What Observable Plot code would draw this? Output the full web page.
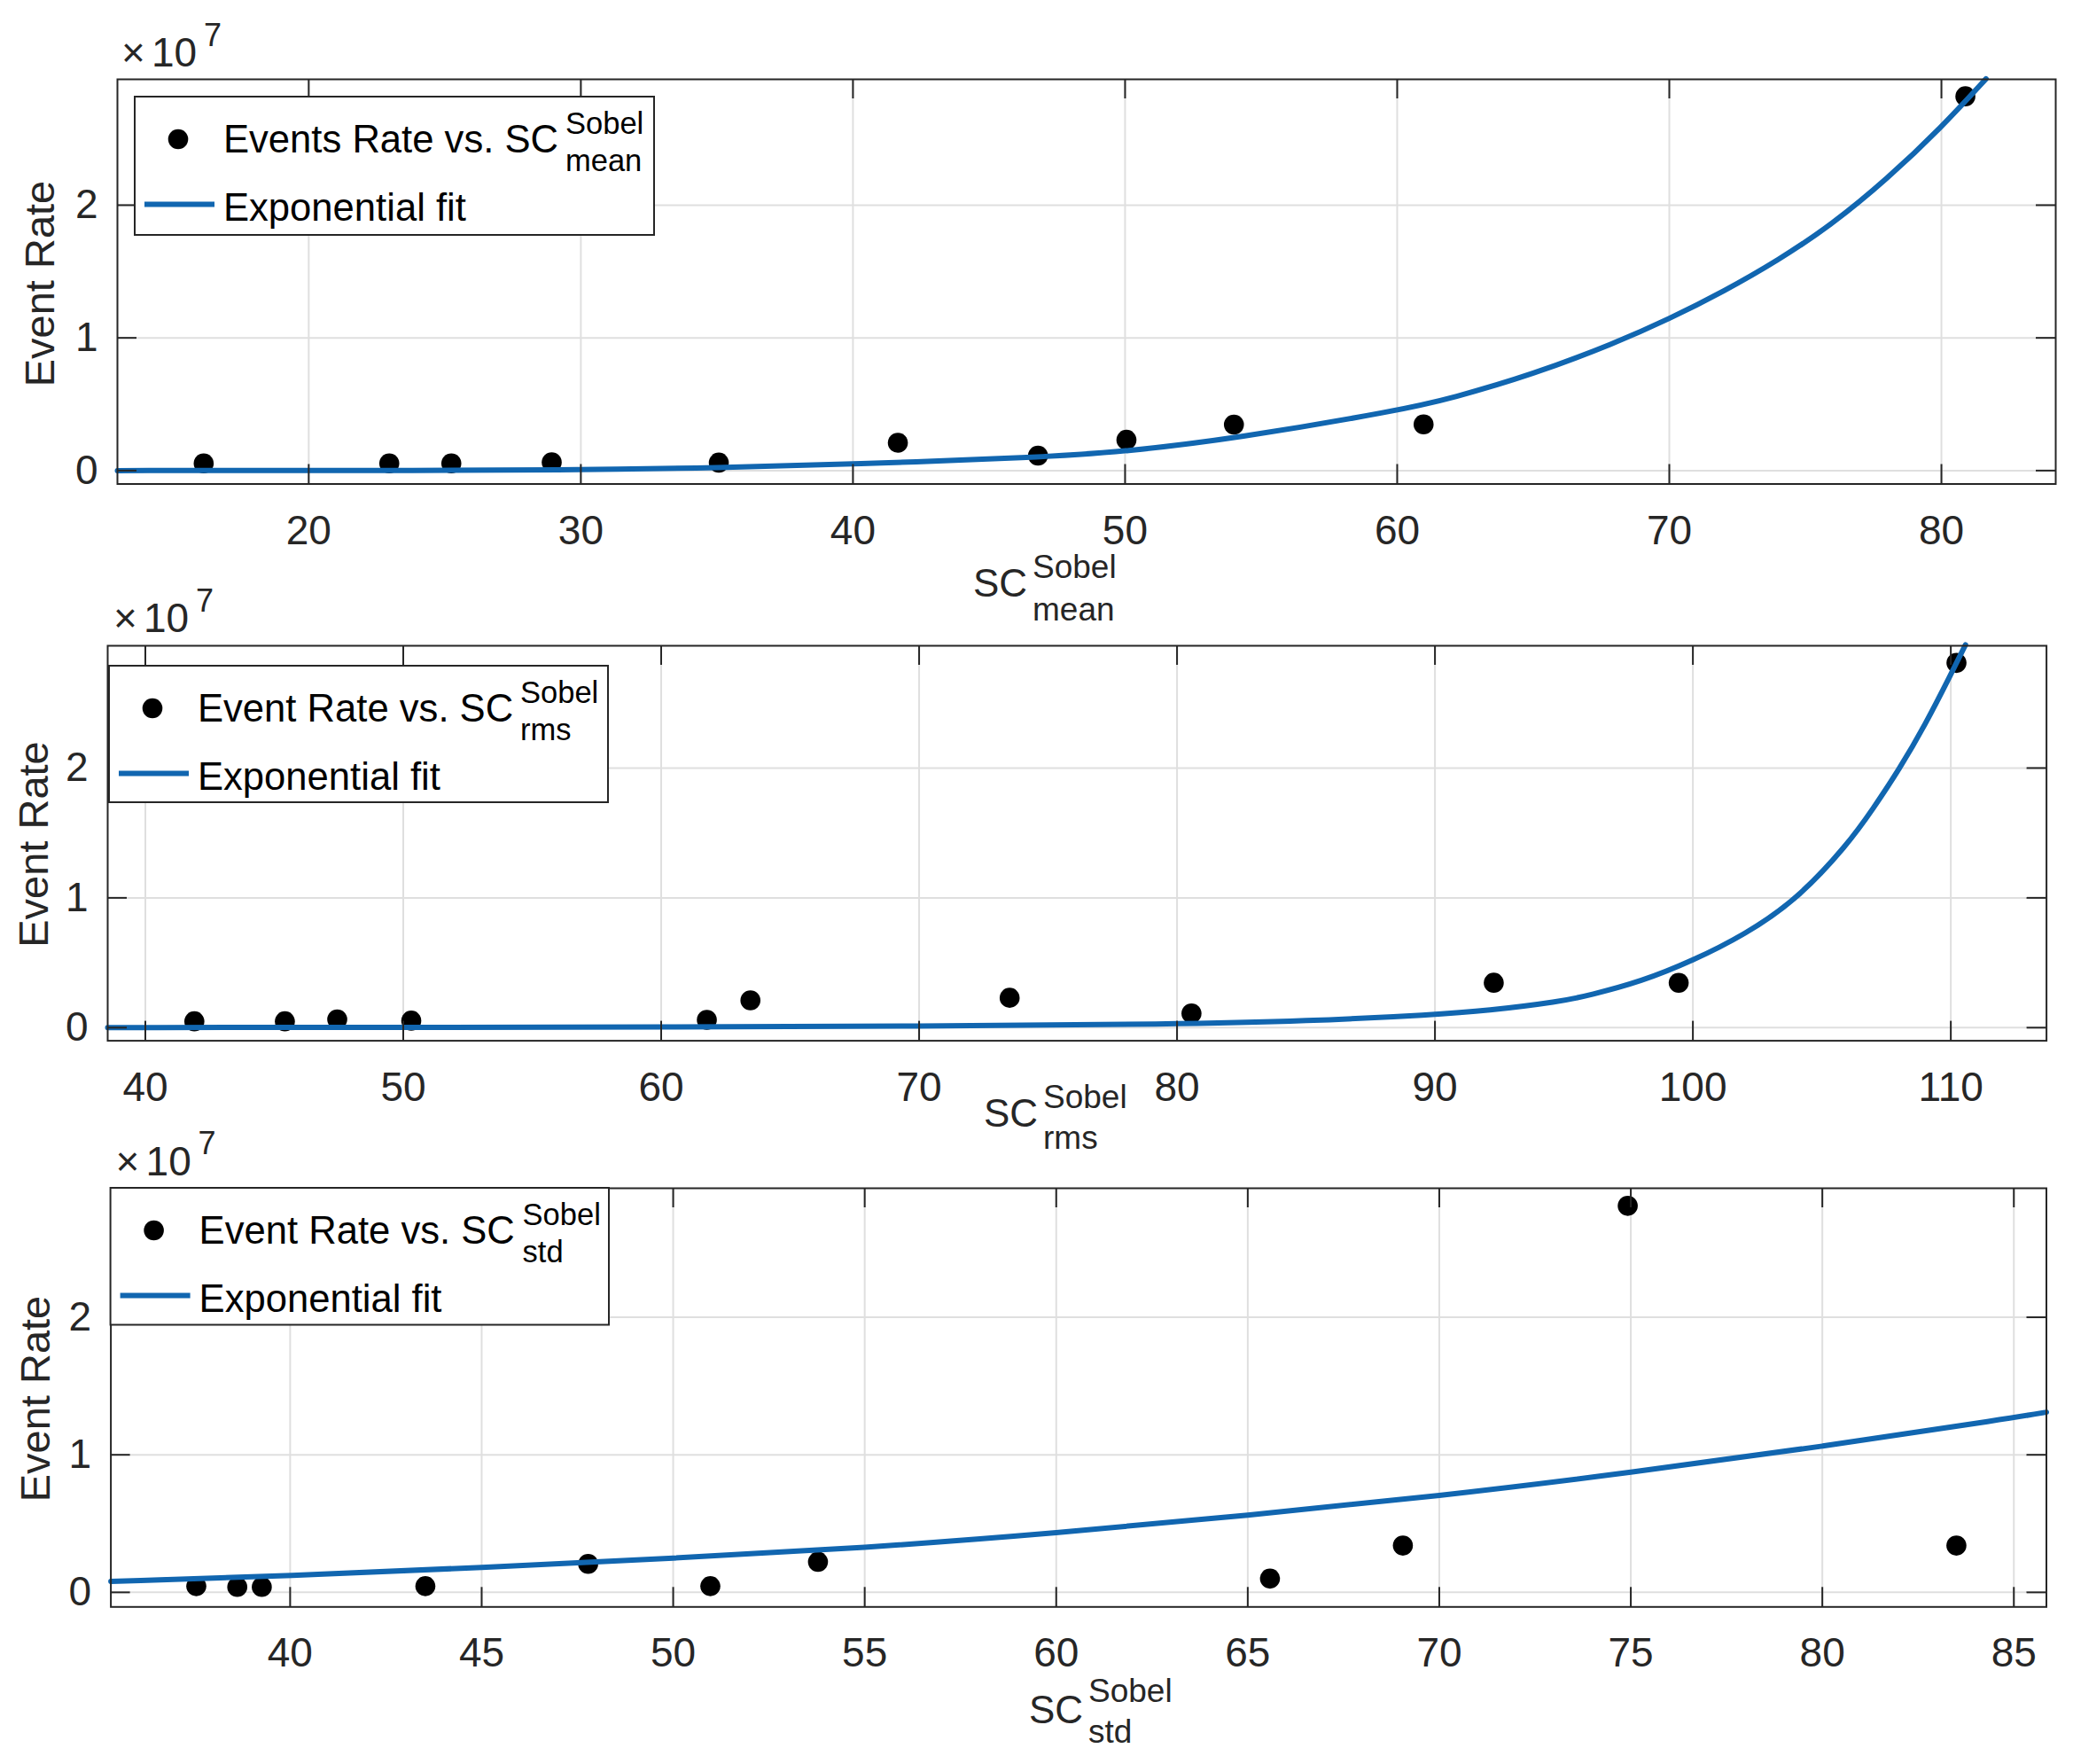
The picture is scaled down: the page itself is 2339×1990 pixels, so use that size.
<!DOCTYPE html>
<html><head><meta charset="utf-8">
<script src="https://cdn.jsdelivr.net/npm/d3@7"></script>
<script src="https://cdn.jsdelivr.net/npm/@observablehq/plot@0.6"></script>
<style>
html,body{margin:0;padding:0;background:#fff;}
#chart{position:relative;width:2339px;height:1990px;background:#fff;overflow:hidden;}
#chart svg{position:absolute;left:0;overflow:visible;}
</style></head><body><div id="chart"></div>
<script>
// ---------------- data (event rates in events, axis shown ×10^7) ----------------
const meanX    = [16.14, 22.96, 25.24, 28.93, 35.07, 41.65, 46.8, 50.05, 54.0, 60.97, 80.88];
const meanRate = [0.054e7, 0.054e7, 0.054e7, 0.063e7, 0.06e7, 0.21e7, 0.113e7, 0.232e7, 0.346e7, 0.348e7, 2.82e7];
const fitMeanX    = [12.97, 20, 30, 35, 40, 46.77, 50, 54, 60.11, 62, 65, 68, 70, 72, 74, 76, 78, 80, 81.64];
const fitMeanRate = [0, 0.0005e7, 0.003e7, 0.022e7, 0.048e7, 0.098e7, 0.143e7, 0.24e7, 0.455e7, 0.545e7, 0.725e7, 0.96e7, 1.143e7, 1.35e7, 1.584e7, 1.857e7, 2.196e7, 2.585e7, 2.952e7];

const rmsX    = [41.9, 45.41, 47.44, 50.31, 61.77, 63.46, 73.51, 80.56, 92.28, 99.45, 110.22];
const rmsRate = [0.049e7, 0.049e7, 0.063e7, 0.054e7, 0.06e7, 0.21e7, 0.23e7, 0.11e7, 0.346e7, 0.345e7, 2.81e7];
const fitRmsX    = [38.54, 50, 60, 70, 80, 85, 90, 92, 94.85, 96, 98, 100, 102, 104, 106, 107, 108, 109, 110, 110.57];
const fitRmsRate = [0.001e7, 0.002e7, 0.004e7, 0.011e7, 0.026e7, 0.05e7, 0.1e7, 0.13e7, 0.2e7, 0.25e7, 0.355e7, 0.516e7, 0.715e7, 0.98e7, 1.41e7, 1.69e7, 1.99e7, 2.33e7, 2.72e7, 2.95e7];

const stdX    = [37.55, 38.62, 39.26, 43.53, 47.78, 50.97, 53.78, 65.58, 69.05, 74.92, 83.5];
const stdRate = [0.045e7, 0.04e7, 0.04e7, 0.045e7, 0.207e7, 0.045e7, 0.222e7, 0.10e7, 0.34e7, 2.81e7, 0.34e7];
const fitStdX    = [35.32, 40, 45, 50, 55, 60, 65, 70, 75, 80, 85, 85.85];
const fitStdRate = [0.08e7, 0.12e7, 0.18e7, 0.248e7, 0.323e7, 0.43e7, 0.56e7, 0.70e7, 0.87e7, 1.06e7, 1.27e7, 1.31e7];

const xTicksMean = [20, 30, 40, 50, 60, 70, 80];
const xTicksRms  = [40, 50, 60, 70, 80, 90, 100, 110];
const xTicksStd  = [40, 45, 50, 55, 60, 65, 70, 75, 80, 85];
const yTicks = [0, 1e7, 2e7];
const yTickLabels = ["0", "1", "2"];

const xDomainMean = [12.97, 84.2];
const xDomainRms  = [38.54, 113.71];
const xDomainStd  = [35.32, 85.85];
const yDomainMean = [-0.101e7, 2.948e7];
const yDomainRms  = [-0.101e7, 2.942e7];
const yDomainStd  = [-0.106e7, 2.938e7];

const yLabel = "Event Rate";
const xLabelMain = "SC";
const xLabelSup = "Sobel";
const subscripts = ["mean", "rms", "std"];
const pointLegendLabels = ["Events Rate vs. SC", "Event Rate vs. SC", "Event Rate vs. SC"];
const fitLegendLabel = "Exponential fit";
const exponentBase = "10";
const exponentPower = "7";

// ---------------- styling / layout ----------------
const FONT = "'Liberation Sans', Arial, Helvetica, sans-serif";
const AXIS = "#262626";
const GRID = "#dfdfdf";
const BLUE = "#1166b0";

const panels = [
  {X: meanX, R: meanRate, FX: fitMeanX, FR: fitMeanRate, ticks: xTicksMean, xd: xDomainMean, yd: yDomainMean,
   svgTop: 0, svgH: 730, L: 132, T: 89, Rt: 2319, B: 545.5,
   leg: [152, 109, 586, 156], supDx: 486,
   sc: [1098, 672.7], sup: [1165, 651.7], sub: [1165, 700],
   yl: [60.7, 320], ex: [137, 75], sub_i: 0},
  {X: rmsX, R: rmsRate, FX: fitRmsX, FR: fitRmsRate, ticks: xTicksRms, xd: xDomainRms, yd: yDomainRms,
   svgTop: 620, svgH: 700, L: 121, T: 728, Rt: 2308.6, B: 1173.6,
   leg: [123, 751, 563, 154], supDx: 464,
   sc: [1110, 1271], sup: [1177, 1250], sub: [1177, 1296],
   yl: [53.7, 952.5], ex: [128, 713], sub_i: 1},
  {X: stdX, R: stdRate, FX: fitStdX, FR: fitStdRate, ticks: xTicksStd, xd: xDomainStd, yd: yDomainStd,
   svgTop: 1240, svgH: 750, L: 124.6, T: 1340, Rt: 2308.5, B: 1812.3,
   leg: [124.6, 1340, 562.4, 154.5], supDx: 465,
   sc: [1161, 1944], sup: [1228, 1919.5], sub: [1228, 1966],
   yl: [56, 1578], ex: [130.6, 1325.7], sub_i: 2}
];

function overlay(p) {
  const off = p.svgTop;
  return () => {
    const g = d3.create("svg:g").attr("font-family", FONT).attr("text-anchor", "start");
    // ×10^7
    const ex = g.append("g").attr("fill", AXIS).attr("font-size", 46);
    ex.append("text").attr("x", p.ex[0]).attr("y", p.ex[1] - off).text("×");
    ex.append("text").attr("x", p.ex[0] + 34).attr("y", p.ex[1] - off).text(exponentBase);
    ex.append("text").attr("x", p.ex[0] + 93).attr("y", p.ex[1] - off - 23.3).attr("font-size", 36).text(exponentPower);
    // y label
    g.append("text").attr("transform", `translate(${p.yl[0]},${p.yl[1] - off}) rotate(-90)`)
      .attr("text-anchor", "middle").attr("font-size", 47).attr("fill", AXIS).text(yLabel);
    // x label
    const xl = g.append("g").attr("fill", AXIS);
    xl.append("text").attr("x", p.sc[0]).attr("y", p.sc[1] - off).attr("font-size", 44).text(xLabelMain);
    xl.append("text").attr("x", p.sup[0]).attr("y", p.sup[1] - off).attr("font-size", 37).text(xLabelSup);
    xl.append("text").attr("x", p.sub[0]).attr("y", p.sub[1] - off).attr("font-size", 37).text(subscripts[p.sub_i]);
    // legend
    const [lx, ly, lw, lh] = p.leg;
    const lg = g.append("g").attr("transform", `translate(${lx},${ly - off})`);
    lg.append("rect").attr("width", lw).attr("height", lh).attr("fill", "#fff").attr("stroke", AXIS).attr("stroke-width", 2);
    lg.append("circle").attr("cx", 49).attr("cy", 48).attr("r", 11.3).attr("fill", "#000");
    lg.append("text").attr("x", 100).attr("y", 62.5).attr("font-size", 43.6).attr("fill", "#000").text(pointLegendLabels[p.sub_i]);
    lg.append("text").attr("x", p.supDx).attr("y", 42).attr("font-size", 34.5).attr("fill", "#000").text(xLabelSup);
    lg.append("text").attr("x", p.supDx).attr("y", 83.5).attr("font-size", 34.5).attr("fill", "#000").text(subscripts[p.sub_i]);
    lg.append("line").attr("x1", 11).attr("x2", 90).attr("y1", 121.5).attr("y2", 121.5).attr("stroke", BLUE).attr("stroke-width", 6);
    lg.append("text").attr("x", 100).attr("y", 139.5).attr("font-size", 43.6).attr("fill", "#000").text(fitLegendLabel);
    return g.node();
  };
}

const chart = document.getElementById("chart");
for (const p of panels) {
  const marginTop = p.T - p.svgTop;
  const marginBottom = p.svgTop + p.svgH - p.B;
  const marginLeft = p.L;
  const marginRight = 2339 - p.Rt;
  const innerH = p.B - p.T;
  const innerW = p.Rt - p.L;
  const pts = p.X.map((x, i) => ({x, y: p.R[i]}));
  const fit = p.FX.map((x, i) => ({x, y: p.FR[i]}));
  const svg = Plot.plot({
    width: 2339, height: p.svgH,
    marginTop, marginBottom, marginLeft, marginRight,
    style: {fontFamily: FONT, background: "transparent", overflow: "visible"},
    x: {domain: p.xd},
    y: {domain: p.yd},
    marks: [
      Plot.ruleX(p.ticks, {x: d => d, stroke: GRID, strokeWidth: 2}),
      Plot.ruleY(yTicks, {y: d => d, stroke: GRID, strokeWidth: 2}),
      Plot.dot(pts, {x: "x", y: "y", r: 11.3, fill: "#000", stroke: "none"}),
      Plot.line(fit, {x: "x", y: "y", stroke: BLUE, strokeWidth: 6, curve: "basis"}),
      Plot.frame({stroke: AXIS, strokeWidth: 2}),
      Plot.tickX(p.ticks, {x: d => d, stroke: AXIS, strokeWidth: 2, insetTop: innerH - 22}),
      Plot.tickX(p.ticks, {x: d => d, stroke: AXIS, strokeWidth: 2, insetBottom: innerH - 22}),
      Plot.tickY(yTicks, {y: d => d, stroke: AXIS, strokeWidth: 2, insetRight: innerW - 22}),
      Plot.tickY(yTicks, {y: d => d, stroke: AXIS, strokeWidth: 2, insetLeft: innerW - 22}),
      Plot.axisX(p.ticks, {anchor: "bottom", tickSize: 0, tickPadding: 35, fontSize: 46, fill: AXIS, label: null}),
      Plot.axisY(yTicks, {anchor: "left", tickSize: 0, tickPadding: 22, fontSize: 46, fill: AXIS, label: null,
        tickFormat: d => yTickLabels[yTicks.indexOf(d)]}),
      overlay(p)
    ]
  });
  svg.style.top = p.svgTop + "px";
  chart.appendChild(svg);
}
</script></body></html>
